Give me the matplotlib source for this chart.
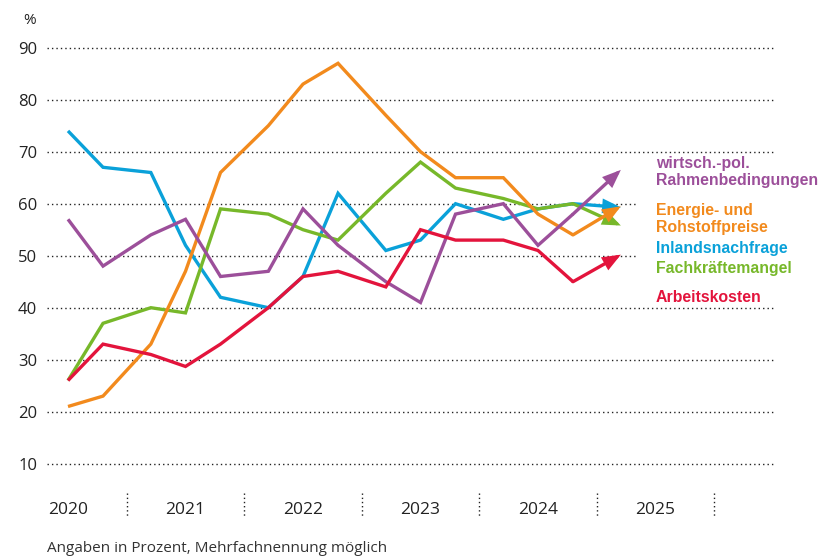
import matplotlib
matplotlib.use("Agg")
import matplotlib.pyplot as plt

# ---- data ----
# survey dates as decimal years (start of year, early summer, autumn)
survey_offsets = [0.0, 0.298, 0.705]
years = [2020, 2021, 2022, 2023, 2024]
times = [y + o for y in years for o in survey_offsets]  # last one = forecast (arrow)

purple_vals = [57, 48, 54, 57, 46, 47, 59, 52, 45, 41, 58, 60, 52, 58, 66.5]
orange_vals = [21, 23, 33, 47, 66, 75, 83, 87, 77, 70, 65, 65, 58, 54, 59.5]
blue_vals   = [74, 67, 66, 52, 42, 40, 46, 62, 51, 53, 60, 57, 59, 60, 59.3]
green_vals  = [26, 37, 40, 39, 59, 58, 55, 53, 62, 68, 63, 61, 59, 60, 55.8]
red_vals    = [26, 33, 31, 28.7, 33, 40, 46, 47, 44, 55, 53, 53, 51, 45, 50.2]

labels = {
    "purple": "wirtsch.-pol.\nRahmenbedingungen",
    "orange": "Energie- und\nRohstoffpreise",
    "blue": "Inlandsnachfrage",
    "green": "Fachkräftemangel",
    "red": "Arbeitskosten",
}
year_labels = ["2020", "2021", "2022", "2023", "2024", "2025"]
yticks = [10, 20, 30, 40, 50, 60, 70, 80, 90]

colors = {
    "purple": "#9c4f9a",
    "orange": "#f28a1d",
    "blue": "#0aa1d9",
    "green": "#77b82a",
    "red": "#e3143c",
}

W, H = 818, 559
fig = plt.figure(figsize=(W / 100, H / 100), dpi=100)
ax_left, ax_right = 47, 775
ax_top, ax_bottom = 47.7, 463.7
ax = fig.add_axes([ax_left / W, 1 - ax_bottom / H, (ax_right - ax_left) / W, (ax_bottom - ax_top) / H])

px_per_year = 117.5
x0 = 2020 - (68 - ax_left) / px_per_year
x1 = 2020 + (ax_right - 68) / px_per_year
ax.set_xlim(x0, x1)
ax.set_ylim(10, 90)
for s in ax.spines.values():
    s.set_visible(False)
ax.set_xticks([])
ax.set_yticks(yticks)
ax.set_yticklabels([str(v) for v in yticks], family="Open Sans", fontsize=12, color="#222222")
ax.tick_params(axis="y", length=0, pad=7)

# gridlines (dotted)
short_end = 2020 + (638 - 68) / px_per_year
for v in yticks:
    xe = short_end if v in (50, 60) else x1
    ax.plot([x0, xe], [v, v], color="#222222", lw=1.0, ls=(0, (1, 2.2)), zorder=1, clip_on=False)

# series
series = [("blue", blue_vals), ("green", green_vals), ("orange", orange_vals),
          ("purple", purple_vals), ("red", red_vals)]
for z, (key, vals) in enumerate(series):
    c = colors[key]
    ax.plot(times[:-1], vals[:-1], color=c, lw=2.4, solid_joinstyle="miter",
            solid_capstyle="butt", zorder=3 + z, clip_on=False)
    ax.annotate("", xy=(times[-1], vals[-1]), xytext=(times[-2], vals[-2]),
                arrowprops=dict(arrowstyle="-|>,head_length=0.9,head_width=0.36",
                                mutation_scale=10, color=c, lw=2.4,
                                shrinkA=0, shrinkB=0, joinstyle="miter"),
                zorder=3 + z)

# legend labels on the right
lab_font = dict(family="Liberation Sans", fontsize=11.4, fontweight="bold")
def fig_text(xpx, ypx, s, **kw):
    fig.text(xpx / W, 1 - ypx / H, s, **kw)

fig_text(656, 172, labels["purple"], color=colors["purple"], va="center", ha="left", linespacing=1.15, **lab_font)
fig_text(656, 219, labels["orange"], color=colors["orange"], va="center", ha="left", linespacing=1.15, **lab_font)
fig_text(656, 248, labels["blue"], color=colors["blue"], va="center", ha="left", **lab_font)
fig_text(656, 269, labels["green"], color=colors["green"], va="center", ha="left", **lab_font)
fig_text(656, 297, labels["red"], color=colors["red"], va="center", ha="left", **lab_font)

# year labels and separators
yl_v = 10 - (510 - ax_bottom) / 5.2
sep_top = 10 - (493 - ax_bottom) / 5.2
sep_bot = 10 - (518 - ax_bottom) / 5.2
for i, yl in enumerate(year_labels):
    ax.text(2020 + i, yl_v, yl, ha="center", va="center", fontsize=12.5,
            family="Open Sans", color="#222222", clip_on=False)
    xs = 2020 + i + 0.5
    ax.plot([xs, xs], [sep_top, sep_bot], color="#222222", lw=1.0, ls=(0, (1, 2)), clip_on=False)

fig_text(30, 21, "%", ha="center", va="center", fontsize=11, family="Open Sans", color="#222222")
fig_text(47, 549, "Angaben in Prozent, Mehrfachnennung möglich", ha="left", va="center",
         fontsize=11, family="Open Sans", color="#333333")

fig.savefig("out.png", dpi=100)
